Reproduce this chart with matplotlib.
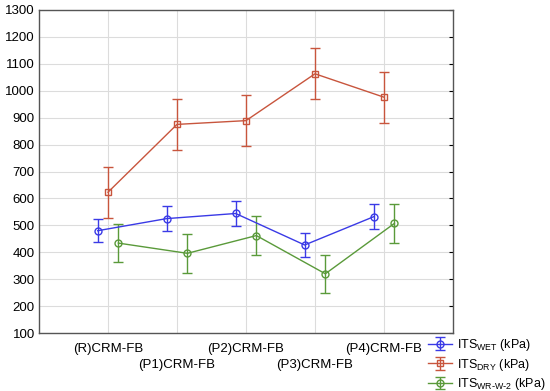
import matplotlib
matplotlib.use("Agg")
import matplotlib.pyplot as plt
import numpy as np

# ---------------------------------------------------------------------------
# Data
# ---------------------------------------------------------------------------
categories = ["(R)CRM-FB", "(P1)CRM-FB", "(P2)CRM-FB", "(P3)CRM-FB", "(P4)CRM-FB"]

its_wet = [480, 525, 544, 427, 532]
its_wet_err = [43, 45, 46, 45, 46]

its_dry = [623, 875, 889, 1063, 976]
its_dry_err = [95, 94, 94, 94, 94]

its_wr = [434, 396, 462, 320, 507]
its_wr_err = [70, 72, 72, 71, 72]

plt.rcParams["font.family"] = ["Liberation Sans", "DejaVu Sans"]
plt.rcParams["font.size"] = 9.5

x = np.arange(1, len(categories) + 1)
off = 0.15

fig = plt.figure(figsize=(5.5, 3.91), dpi=100)
ax = fig.add_axes([39 / 550, 1 - 333 / 391, 414 / 550, 323 / 391])

blue = "#3a3ae6"
red = "#c8553d"
green = "#5a9a3a"

ax.errorbar(x - off, its_wet, yerr=its_wet_err, color=blue, marker="o", ms=5,
            mfc="none", mew=1, lw=1, capsize=3.5, elinewidth=1,
            label="ITS$_{\\mathregular{WET}}$ (kPa)", zorder=3)
ax.errorbar(x, its_dry, yerr=its_dry_err, color=red, marker="s", ms=5,
            mfc="none", mew=1, lw=1, capsize=3.5, elinewidth=1,
            label="ITS$_{\\mathregular{DRY}}$ (kPa)", zorder=3)
ax.errorbar(x + off, its_wr, yerr=its_wr_err, color=green, marker="o", ms=5,
            mfc="none", mew=1, lw=1, capsize=3.5, elinewidth=1,
            label="ITS$_{\\mathregular{WR\\text{-}W\\text{-}2}}$ (kPa)", zorder=3)

ax.set_xlim(0, 6)
ax.set_ylim(100, 1300)
ax.set_yticks(np.arange(100, 1301, 100))

# staggered category labels: odd ones on the upper row, even ones lower
ax.set_xticks(x[::2])
ax.set_xticklabels(categories[::2])
ax.set_xticks(x[1::2], minor=True)
ax.set_xticklabels(categories[1::2], minor=True)
ax.tick_params(axis="x", which="major", length=0, pad=7)
ax.tick_params(axis="x", which="minor", length=0, pad=19)
ax.tick_params(axis="y", direction="in", length=3, right=True, labelright=False,
               left=False, pad=3)
ax.grid(True, which="both", axis="x", color="#dcdcdc", lw=0.8)
ax.grid(True, axis="y", color="#dcdcdc", lw=0.8)
ax.set_axisbelow(True)
for s in ax.spines.values():
    s.set_color("#555555")
    s.set_linewidth(1)

fig.legend(*ax.get_legend_handles_labels(), loc="upper left",
           bbox_to_anchor=(428 / 550, 1 - 337 / 391), frameon=False,
           handlelength=1.9, handletextpad=0.4, labelspacing=0.3,
           borderaxespad=0, borderpad=0, fontsize=9)

fig.savefig("out.png", dpi=100)
